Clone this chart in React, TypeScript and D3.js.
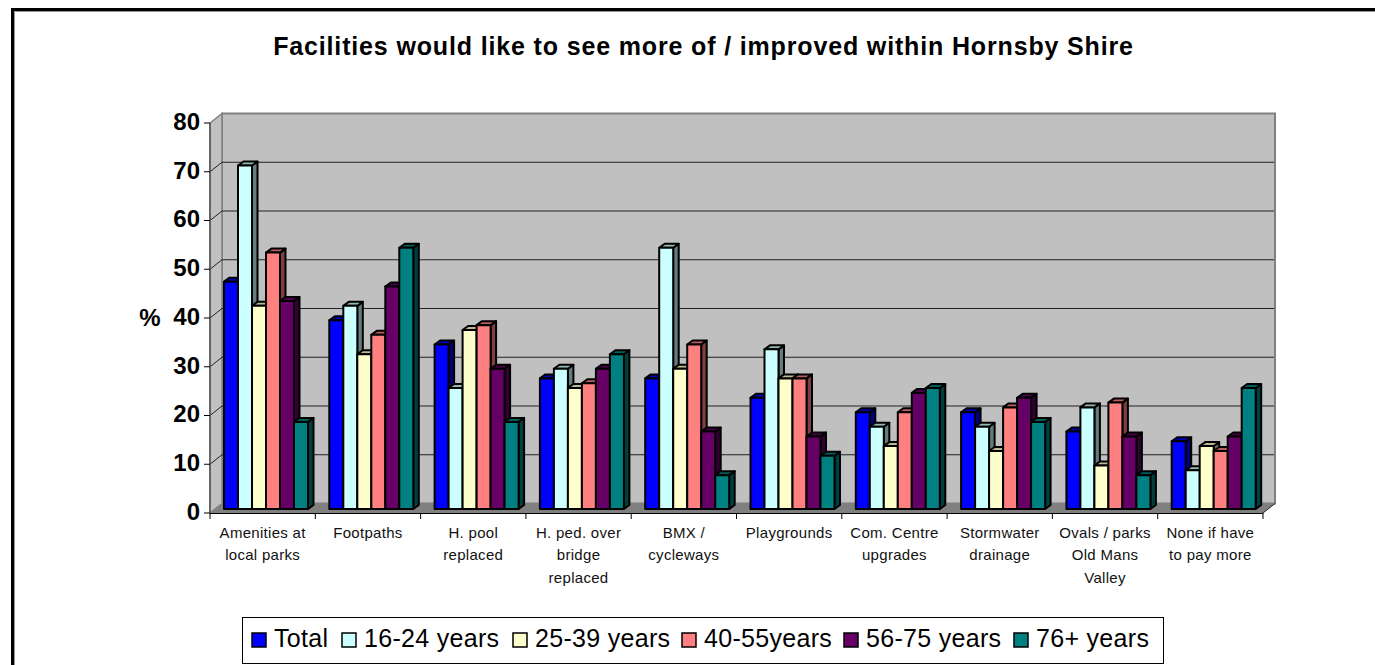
import React from 'react'
import * as d3 from 'd3'

const categories = [
  ['Amenities at', 'local parks'],
  ['Footpaths'],
  ['H. pool', 'replaced'],
  ['H. ped. over', 'bridge', 'replaced'],
  ['BMX /', 'cycleways'],
  ['Playgrounds'],
  ['Com. Centre', 'upgrades'],
  ['Stormwater', 'drainage'],
  ['Ovals / parks', 'Old Mans', 'Valley'],
  ['None if have', 'to pay more'],
]

const seriesNames = ['Total', '16-24 years', '25-39 years', '40-55years', '56-75 years', '76+ years']
const seriesColors = ['#0000ff', '#ccffff', '#ffffcc', '#ff8080', '#660066', '#008080']

const total = [47, 39, 34, 27, 27, 23, 20, 20, 16, 14]
const age16 = [71, 42, 25, 29, 54, 33, 17, 17, 21, 8]
const age25 = [42, 32, 37, 25, 29, 27, 13, 12, 9, 13]
const age40 = [53, 36, 38, 26, 34, 27, 20, 21, 22, 12]
const age56 = [43, 46, 29, 29, 16, 15, 24, 23, 15, 15]
const age76 = [18, 54, 18, 32, 7, 11, 25, 18, 7, 25]
const seriesValues = [total, age16, age25, age40, age56, age76]

const yTicks = [0, 10, 20, 30, 40, 50, 60, 70, 80]

const width = 1375
const height = 665
const fontFamily = '"Liberation Sans", Arial, sans-serif'

// chart depth: the back wall sits up and to the right of the front axes
const wallDx = 12
const wallDy = -9.5
const barDx = 5.5
const barDy = -4

const x = d3.scaleBand<number>().domain(d3.range(categories.length)).range([210, 1263])
const inner = d3.scaleBand<number>().domain(d3.range(seriesNames.length)).range([0, 84])
const y = d3.scaleLinear().domain([0, 80]).range([513, 123])
// bars stand a little way back from the front edge of the floor
const yBar = d3.scaleLinear().domain([0, 80]).range([509, 122])

const legendSwatchX = [252, 342, 513, 682, 844, 1014]

const poly = (pts: number[][]) => pts.map(p => p.join(',')).join(' ')

const Bar: React.FC<{ cat: number; ser: number; value: number }> = ({ cat, ser, value }) => {
  const x0 = (x(cat) as number) + 14 + (inner(ser) as number)
  const x1 = x0 + inner.bandwidth()
  const base = yBar(0)
  const top = yBar(value)
  const color = d3.color(seriesColors[ser]) as d3.RGBColor
  return (
    <g stroke="#000" strokeWidth={2} strokeLinejoin="round">
      <polygon
        points={poly([[x1, top], [x1 + barDx, top + barDy], [x1 + barDx, base + barDy], [x1, base]])}
        fill={color.darker(2).formatHex()}
      />
      <polygon
        points={poly([[x0, top], [x0 + barDx, top + barDy], [x1 + barDx, top + barDy], [x1, top]])}
        fill={color.darker(0.9).formatHex()}
      />
      <rect x={x0} y={top} width={x1 - x0} height={base - top} fill={seriesColors[ser]} />
    </g>
  )
}

export default function App() {
  const [left, right] = x.range()
  const bottom = y(0)
  const topY = y(80)
  return (
    <svg
      width={width}
      height={height}
      style={{ position: 'absolute', left: 0, top: 0, background: '#fff' }}
      fontFamily={fontFamily}
    >
      <path d={`M12.5,${height}V9.5H${width}`} fill="none" stroke="#000" strokeWidth={3} />
      <path d={`M14.5,${height}V11.5H${width}`} fill="none" stroke="#999" strokeWidth={1} />

      <text x={703.5} y={55} textAnchor="middle" fontSize={25} fontWeight="bold" letterSpacing={0.85}>
        Facilities would like to see more of / improved within Hornsby Shire
      </text>

      {/* walls and floor */}
      <rect
        x={left + wallDx}
        y={topY + wallDy}
        width={right - left}
        height={bottom - topY}
        fill="#c0c0c0"
        stroke="#808080"
        strokeWidth={2}
      />
      <polygon
        points={poly([[left, topY], [left + wallDx, topY + wallDy], [left + wallDx, bottom + wallDy], [left, bottom]])}
        fill="#c0c0c0"
        stroke="#808080"
        strokeWidth={1.5}
      />
      <polygon
        points={poly([[left, bottom], [left + wallDx, bottom + wallDy], [right + wallDx, bottom + wallDy], [right, bottom]])}
        fill="#808080"
      />

      {/* gridlines, running back along the left wall */}
      {yTicks.filter(t => t > 0 && t < 80).map(t => (
        <polyline
          key={t}
          points={poly([[left, y(t)], [left + wallDx, y(t) + wallDy], [right + wallDx - 1, y(t) + wallDy]])}
          fill="none"
          stroke="#222"
          strokeWidth={1}
        />
      ))}
      <line x1={right} y1={bottom} x2={right + wallDx} y2={bottom + wallDy} stroke="#222" strokeWidth={1} />

      {categories.map((_, c) =>
        seriesValues.map((values, s) => <Bar key={`${c}-${s}`} cat={c} ser={s} value={values[c]} />)
      )}

      {/* y axis */}
      <line x1={left} y1={topY} x2={left} y2={bottom} stroke="#555" strokeWidth={1.5} />
      {yTicks.map(t => (
        <g key={t}>
          <line x1={left - 6} y1={y(t)} x2={left} y2={y(t)} stroke="#000" strokeWidth={1} />
          <text x={200} y={y(t) + 6.75} textAnchor="end" fontSize={24} fontWeight="bold">
            {t}
          </text>
        </g>
      ))}
      <text x={150} y={326} textAnchor="middle" fontSize={24} fontWeight="bold">
        %
      </text>

      {/* x axis */}
      <line x1={left} y1={bottom + 0.5} x2={right} y2={bottom + 0.5} stroke="#000" strokeWidth={1} />
      {d3.range(categories.length + 1).map(i => {
        const px = left + i * x.step()
        return <line key={i} x1={px} y1={bottom} x2={px} y2={bottom + 6} stroke="#000" strokeWidth={1} />
      })}
      {categories.map((lines, c) =>
        lines.map((line, i) => (
          <text
            key={`${c}-${i}`}
            x={(x(c) as number) + x.bandwidth() / 2}
            y={538 + i * 22.3}
            textAnchor="middle"
            fontSize={15}
            letterSpacing={0.3}
            fill="#111"
          >
            {line}
          </text>
        ))
      )}

      {/* legend */}
      <rect x={242.5} y={617.5} width={921} height={46} fill="#fff" stroke="#000" strokeWidth={1} />
      {seriesNames.map((name, s) => (
        <g key={name}>
          <rect
            x={legendSwatchX[s]}
            y={633}
            width={14}
            height={14}
            fill={seriesColors[s]}
            stroke="#000"
            strokeWidth={1.5}
          />
          <text x={legendSwatchX[s] + 22} y={647} fontSize={25} letterSpacing={0.3}>
            {name}
          </text>
        </g>
      ))}
    </svg>
  )
}
